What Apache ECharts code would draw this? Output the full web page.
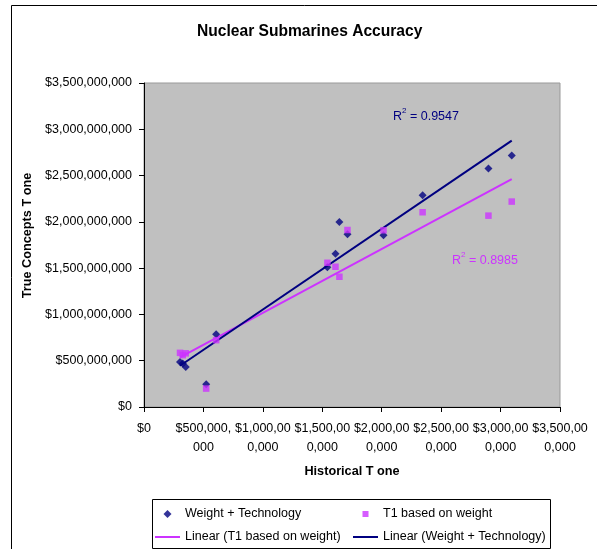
<!DOCTYPE html>
<html>
<head>
<meta charset="utf-8">
<script src="https://cdn.jsdelivr.net/npm/echarts@6/dist/echarts.min.js"></script>
<style>
html,body{margin:0;padding:0;background:#fff;}
#chart{width:597px;height:549px;}
</style>
</head>
<body>
<div id="chart"></div>
<script>
// ---- data ----
const titleText = 'Nuclear Submarines Accuracy';
const xName = 'Historical T one';
const yName = 'True Concepts T one';
const seriesNames = ['Weight + Technology', 'T1 based on weight', 'Linear (T1 based on weight)', 'Linear (Weight + Technology)'];
const historical = [303e6, 326e6, 351e6, 523e6, 607e6, 1543e6, 1611e6, 1644e6, 1712e6, 2015e6, 2344e6, 2898e6, 3094e6];
const weightTech = [487e6, 470e6, 433e6, 246e6, 787e6, 1509e6, 1656e6, 1999e6, 1866e6, 1855e6, 2288e6, 2576e6, 2716e6];
const t1Weight   = [585e6, 560e6, 580e6, 199e6, 722e6, 1558e6, 1515e6, 1407e6, 1912e6, 1909e6, 2104e6, 2067e6, 2219e6];
const xTickLabels = ['$0', '$500,000,\n000', '$1,000,00\n0,000', '$1,500,00\n0,000', '$2,000,00\n0,000', '$2,500,00\n0,000', '$3,000,00\n0,000', '$3,500,00\n0,000'];
const yTickLabels = ['$0', '$500,000,000', '$1,000,000,000', '$1,500,000,000', '$2,000,000,000', '$2,500,000,000', '$3,000,000,000', '$3,500,000,000'];
const r2Labels = ['0.9547', '0.8985'];

// ---- linear least-squares trendline (as Excel does) ----
function trend(xs, ys) {
  const n = xs.length;
  let mx = 0, my = 0;
  for (let i = 0; i < n; i++) { mx += xs[i]; my += ys[i]; }
  mx /= n; my /= n;
  let sxy = 0, sxx = 0;
  for (let i = 0; i < n; i++) { sxy += (xs[i] - mx) * (ys[i] - my); sxx += (xs[i] - mx) * (xs[i] - mx); }
  const b = sxy / sxx, a = my - b * mx;
  const x0 = Math.min.apply(null, xs), x1 = Math.max.apply(null, xs);
  return [[x0, a + b * x0], [x1, a + b * x1]];
}

const FONT = "'Liberation Sans', Arial, sans-serif";
const BLUE = '#000080';
const PINK = '#CC33FF';
const LINE_ICON = 'path://M0,0H25V2H0Z';
// legend marker icons padded with invisible zero-length moves so the marker stays small and centred
const DIAMOND_ICON = 'path://M0,4M25,4M12.5,0L16.5,4L12.5,8L8.5,4Z';
const SQUARE_ICON = 'path://M0,3.5M25,3.5M9.5,0.5H15.5V6.5H9.5Z';

const chart = echarts.init(document.getElementById('chart'), null, {renderer: 'canvas'});
chart.setOption({
  backgroundColor: '#ffffff',
  animation: false,
  textStyle: {fontFamily: FONT},
  title: {
    text: titleText,
    left: 197, top: 24, padding: 0,
    textStyle: {fontFamily: FONT, fontSize: 15.6, fontWeight: 'bold', color: '#000'}
  },
  grid: {
    left: 144, right: 37, top: 83, bottom: 142,
    show: true, backgroundColor: '#C0C0C0', borderColor: '#999999', borderWidth: 1
  },
  xAxis: {
    type: 'value', min: 0, max: 3.5e9, interval: 5e8,
    name: xName, nameLocation: 'middle', nameGap: 58,
    nameTextStyle: {fontFamily: FONT, fontSize: 12.7, fontWeight: 'bold', color: '#000'},
    axisLine: {show: true, onZero: false, lineStyle: {color: '#000', width: 1}},
    axisTick: {show: true, length: 5, lineStyle: {color: '#000'}},
    splitLine: {show: false},
    axisLabel: {
      margin: 12, fontFamily: FONT, fontSize: 12.5, color: '#000', lineHeight: 19, align: 'center',
      formatter: function (v, i) { return xTickLabels[i]; }
    }
  },
  yAxis: {
    type: 'value', min: 0, max: 3.5e9, interval: 5e8,
    name: yName, nameLocation: 'middle', nameGap: 98,
    nameTextStyle: {fontFamily: FONT, fontSize: 12.7, fontWeight: 'bold', color: '#000', padding: [0, 0, 0, 19]},
    axisLine: {show: true, onZero: false, lineStyle: {color: '#000', width: 1}},
    axisTick: {show: true, length: 5, lineStyle: {color: '#000'}},
    splitLine: {show: false},
    axisLabel: {
      margin: 12, fontFamily: FONT, fontSize: 12.5, color: '#000',
      formatter: function (v, i) { return yTickLabels[i]; }
    }
  },
  legend: [
    {
      orient: 'vertical', left: 155, top: 507, padding: 0, itemGap: 9, itemWidth: 25, itemHeight: 8,
      symbolKeepAspect: true,
      textStyle: {fontFamily: FONT, fontSize: 12.5, color: '#000', lineHeight: 14},
      data: [{name: seriesNames[0], icon: DIAMOND_ICON}, {name: seriesNames[2], icon: LINE_ICON}]
    },
    {
      orient: 'vertical', left: 353, top: 507, padding: 0, itemGap: 9, itemWidth: 25, itemHeight: 7,
      symbolKeepAspect: true,
      textStyle: {fontFamily: FONT, fontSize: 12.5, color: '#000', lineHeight: 14},
      data: [{name: seriesNames[1], icon: SQUARE_ICON}, {name: seriesNames[3], icon: LINE_ICON}]
    }
  ],
  graphic: [
    {type: 'rect', z: -10, silent: true, shape: {x: 11.5, y: 5.5, width: 800, height: 800},
     style: {fill: 'none', stroke: '#000', lineWidth: 1}},
    {type: 'rect', z: 0, silent: true, shape: {x: 152.5, y: 499.5, width: 398, height: 49},
     style: {fill: '#fff', stroke: '#000', lineWidth: 1}},
    {type: 'text', left: 393, top: 107, silent: true,
     style: {text: '{m|R}{s|2}{m| = ' + r2Labels[0] + '}', fill: BLUE,
       rich: {m: {fontFamily: FONT, fontSize: 12.5, fill: BLUE, lineHeight: 16, verticalAlign: 'bottom'},
              s: {fontFamily: FONT, fontSize: 8, fill: BLUE, verticalAlign: 'top'}}}},
    {type: 'text', left: 452, top: 251, silent: true,
     style: {text: '{m|R}{s|2}{m| = ' + r2Labels[1] + '}', fill: PINK,
       rich: {m: {fontFamily: FONT, fontSize: 12.5, fill: PINK, lineHeight: 16, verticalAlign: 'bottom'},
              s: {fontFamily: FONT, fontSize: 8, fill: PINK, verticalAlign: 'top'}}}}
  ],
  series: [
    {name: seriesNames[2], type: 'line', symbol: 'none', z: 2,
     lineStyle: {color: PINK, width: 2}, itemStyle: {color: PINK},
     data: trend(historical, t1Weight)},
    {name: seriesNames[3], type: 'line', symbol: 'none', z: 2,
     lineStyle: {color: BLUE, width: 2}, itemStyle: {color: BLUE},
     data: trend(historical, weightTech)},
    {name: seriesNames[0], type: 'scatter', symbol: 'diamond', symbolSize: 8, z: 3,
     itemStyle: {color: BLUE},
     data: historical.map(function (x, i) { return [x, weightTech[i]]; })},
    {name: seriesNames[1], type: 'scatter', symbol: 'rect', symbolSize: 6.5, z: 4,
     itemStyle: {color: PINK},
     data: historical.map(function (x, i) { return [x, t1Weight[i]]; })}
  ]
});
</script>
</body>
</html>
